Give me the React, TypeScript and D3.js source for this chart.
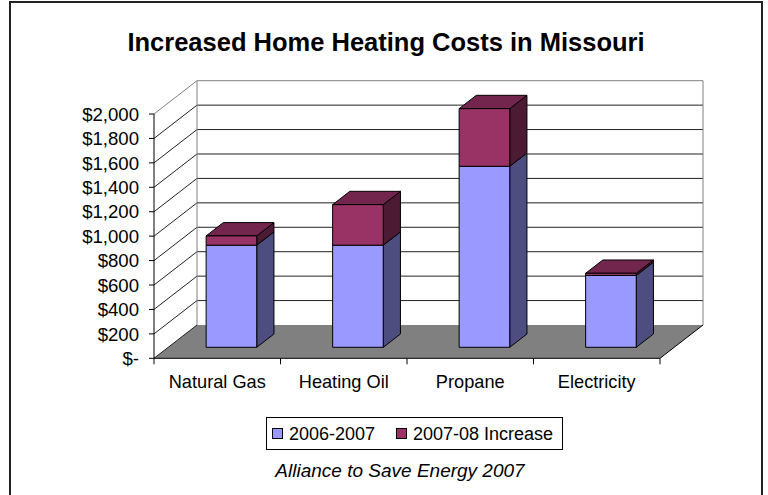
import React from "react";
import * as d3 from "d3";

const categories = ["Natural Gas", "Heating Oil", "Propane", "Electricity"];
const base2006 = [836, 836, 1482, 588];
const increase2007 = [76, 332, 472, 18];
const seriesNames = ["2006-2007", "2007-08 Increase"];
const yTicks = [0, 200, 400, 600, 800, 1000, 1200, 1400, 1600, 1800, 2000];

const W = 768;
const H = 495;
const FONT = "Arial, 'Liberation Sans', sans-serif";

// oblique depth vector
const DX = 43;
const DY = -33.3;
const F0 = 0.33; // front plane of bars (fraction of depth)
const FD = 0.4; // bar depth

const x = d3.scaleBand<string>().domain(categories).range([154, 660]).padding(0);
const y = d3.scaleLinear().domain([0, 2000]).range([358.3, 114]);

const fmt = (v: number) => (v === 0 ? "$-" : "$" + d3.format(",")(v));

const colors = {
  blueFront: "#9999FF",
  blueSide: "#4D4D80",
  blueTop: "#7373BF",
  redFront: "#993366",
  redSide: "#4D1A33",
  redTop: "#73264D",
};

function pts(arr: [number, number][]) {
  return arr.map((p) => p[0].toFixed(2) + "," + p[1].toFixed(2)).join(" ");
}

export default function App() {
  const x0 = 154;
  const x1 = 660;
  const bw = x.bandwidth();
  const barW = bw * 0.4;

  const segs: any[][] = [];

  categories.forEach((c, i) => {
    const values = [base2006[i], increase2007[i]];
    let acc = 0;
    const list: any[] = [];
    values.forEach((v, s) => {
      const lo = acc;
      const hi = acc + v;
      acc = hi;
      const fx0 = (x(c) as number) + (bw - barW) / 2 + F0 * DX;
      const fx1 = fx0 + barW;
      const yb = y(lo) + F0 * DY;
      const yt = y(hi) + F0 * DY;
      const ddx = FD * DX;
      const ddy = FD * DY;
      list.push({
        front: `M${fx0},${yb}H${fx1}V${yt}H${fx0}Z`,
        side: pts([
          [fx1, yb],
          [fx1 + ddx, yb + ddy],
          [fx1 + ddx, yt + ddy],
          [fx1, yt],
        ]),
        top: pts([
          [fx0, yt],
          [fx1, yt],
          [fx1 + ddx, yt + ddy],
          [fx0 + ddx, yt + ddy],
        ]),
        isTop: s === values.length - 1,
        fl: s === 0 ? colors.blueFront : colors.redFront,
        sd: s === 0 ? colors.blueSide : colors.redSide,
        tp: s === 0 ? colors.blueTop : colors.redTop,
      });
    });
    segs.push(list);
  });

  const floor = pts([
    [x0, y(0)],
    [x1, y(0)],
    [x1 + DX, y(0) + DY],
    [x0 + DX, y(0) + DY],
  ]);

  return (
    <svg
      width={W}
      height={H}
      viewBox={`0 0 ${W} ${H}`}
      style={{ position: "absolute", left: 0, top: 0, background: "#fff" }}
    >
      <rect x={10} y={2} width={752} height={520} fill="#fff" stroke="#222" strokeWidth={2} />
      <text
        x={386}
        y={51}
        textAnchor="middle"
        fontFamily={FONT}
        fontWeight="bold"
        fontSize={25.5}
        fill="#000"
      >
        Increased Home Heating Costs in Missouri
      </text>

      {/* floor */}
      <polygon points={floor} fill="#808080" stroke="none" />
      <line x1={x1} y1={y(0)} x2={x1 + DX} y2={y(0) + DY} stroke="#000" strokeWidth={1} />

      {/* walls gridlines */}
      {yTicks.map((t) => (
        <g key={"g" + t}>
          {t > 0 && (
            <line
              x1={x0 + DX}
              y1={y(t) + DY}
              x2={x1 + DX}
              y2={y(t) + DY}
              stroke={t === 2000 ? "#808080" : "#222"}
              strokeWidth={1}
            />
          )}
          <line
            x1={x0}
            y1={y(t)}
            x2={x0 + DX}
            y2={y(t) + DY}
            stroke={t === 2000 ? "#808080" : "#222"}
            strokeWidth={1}
          />
        </g>
      ))}
      <line x1={x0 + DX} y1={y(0) + DY} x2={x0 + DX} y2={y(2000) + DY} stroke="#808080" strokeWidth={1} />
      <line x1={x1 + DX} y1={y(0) + DY} x2={x1 + DX} y2={y(2000) + DY} stroke="#808080" strokeWidth={1} />

      {/* bars */}
      {segs.map((list, i) => (
        <g key={"b" + i}>
          {list.map((s: any, j: number) => (
            <g key={j}>
              <polygon points={s.side} fill={s.sd} stroke="#000" strokeWidth={1} strokeLinejoin="round" />
              {s.isTop && <polygon points={s.top} fill={s.tp} stroke="#000" strokeWidth={1} strokeLinejoin="round" />}
              <path d={s.front} fill={s.fl} stroke="#000" strokeWidth={1} />
            </g>
          ))}
        </g>
      ))}

      {/* y axis */}
      <line x1={x0} y1={y(0)} x2={x0} y2={y(2000)} stroke="#000" strokeWidth={1} />
      {yTicks.map((t) => (
        <g key={"t" + t}>
          <line x1={x0 - 5} y1={y(t)} x2={x0} y2={y(t)} stroke="#000" strokeWidth={1} />
          <text
            x={139}
            y={y(t)}
            dy="0.36em"
            textAnchor="end"
            fontFamily={FONT}
            fontSize={18.6}
            fill="#000"
          >
            {fmt(t)}
          </text>
        </g>
      ))}

      {/* x axis */}
      <line x1={x0} y1={y(0)} x2={x1} y2={y(0)} stroke="#000" strokeWidth={1} />
      {categories.concat([""]).map((c, i) => (
        <line
          key={"xt" + i}
          x1={x0 + i * bw}
          y1={y(0)}
          x2={x0 + i * bw}
          y2={y(0) + 6}
          stroke="#000"
          strokeWidth={1}
        />
      ))}
      {categories.map((c) => (
        <text
          key={"xl" + c}
          x={(x(c) as number) + bw / 2}
          y={387.5}
          textAnchor="middle"
          fontFamily={FONT}
          fontSize={18.2}
          fill="#000"
        >
          {c}
        </text>
      ))}

      {/* legend */}
      <rect x={266.5} y={417.5} width={296} height={32} fill="#fff" stroke="#000" strokeWidth={1} />
      <rect x={272.5} y={428.5} width={10} height={10} fill={colors.blueFront} stroke="#000" strokeWidth={1} />
      <text x={289} y={440} fontFamily={FONT} fontSize={18} fill="#000">
        {seriesNames[0]}
      </text>
      <rect x={396.5} y={428.5} width={10} height={10} fill={colors.redFront} stroke="#000" strokeWidth={1} />
      <text x={413} y={440} fontFamily={FONT} fontSize={18} fill="#000">
        {seriesNames[1]}
      </text>

      <text
        x={400}
        y={477}
        textAnchor="middle"
        fontFamily={FONT}
        fontStyle="italic"
        fontSize={19}
        fill="#000"
      >
        Alliance to Save Energy 2007
      </text>
    </svg>
  );
}
